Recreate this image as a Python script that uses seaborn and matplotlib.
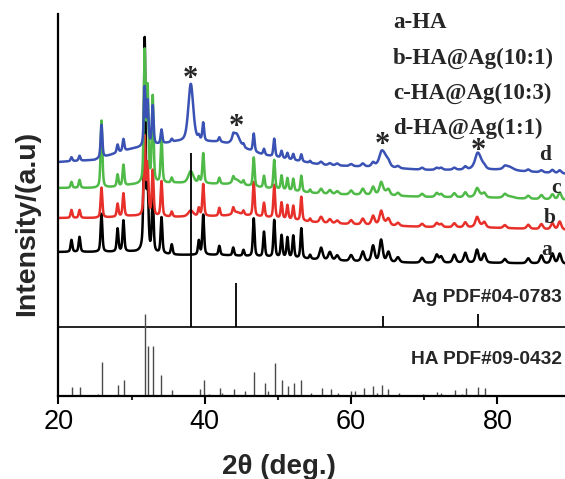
import numpy as np
import pandas as pd
import matplotlib
matplotlib.use("Agg")
import matplotlib.pyplot as plt
import seaborn as sns

# ---------------- data ----------------
# HA reflections seen in the measured patterns (2theta, deg)
ha_peak_pos = [21.8, 22.9, 25.9, 28.1, 28.9, 31.8, 32.2, 32.9, 34.1, 35.5,
               39.2, 39.8, 42.0, 43.9, 45.3, 46.7, 48.1, 49.5, 50.5, 51.3,
               52.1, 53.2, 54.4, 55.9, 57.1, 58.1, 60.0, 61.6, 63.0, 64.1,
               65.1, 66.4, 69.7, 71.7, 72.3, 74.1, 75.6, 77.2, 78.2, 81.0,
               84.2, 86.0, 87.5, 88.5]
ha_peak_fwhm = [0.28] * 23 + [0.5] * 21
a_heights = [12, 15, 38, 23, 31, 212, 60, 55, 36, 10, 14, 40, 9, 8, 6, 38, 25, 37, 22, 20,
             22, 30, 4, 12, 8, 5, 6, 10, 16, 22, 10, 5, 5, 8, 6, 8, 10, 13, 9, 4, 5, 8, 10, 10]
b_heights = [8, 8, 30, 13, 23, 78, 50, 45, 35, 5, 8, 32, 8, 6, 4, 34, 14, 33, 16, 14,
             14, 24, 3, 6, 4, 3, 4, 6, 9, 12, 6, 3, 3, 4, 3, 4, 5, 8, 5, 3, 4, 5, 6, 8]
c_heights = [6, 8, 67, 12, 21, 130, 92, 86, 45, 5, 6, 30, 6, 5, 4, 29, 12, 29, 14, 12,
             12, 16, 3, 5, 4, 3, 4, 6, 8, 10, 5, 3, 3, 4, 3, 4, 5, 6, 4, 3, 3, 4, 5, 7]
d_heights = [4, 5, 33, 8, 12, 58, 43, 39, 14, 3, 4, 18, 4, 4, 3, 18, 6, 18, 7, 6,
             6, 7, 2, 3, 2, 2, 2, 3, 4, 4, 3, 2, 2, 2, 2, 2, 3, 3, 2, 2, 2, 2, 3, 3]

# Ag reflections in the measured patterns
ag_peak_pos = [38.1, 44.3, 64.4, 77.4, 81.5]
ag_peak_fwhm = [0.8, 1.1, 1.2, 1.1, 1.4]
a_ag = [0, 0, 0, 0, 0]
b_ag = [6, 3, 3, 3, 0]
c_ag = [12, 5, 4, 4, 2]
d_ag = [58, 13, 15, 15, 4]

# background levels (stacked offsets included)
base_x = [20, 25, 28, 30, 36, 42, 45, 48, 52, 56, 62, 70, 80, 90]
a_base = [144, 144, 144, 144, 141, 141, 140, 139, 138, 136, 134, 133, 133, 132]
b_base = [178, 178, 179, 180, 179, 180, 181, 179, 176, 173, 171, 169, 168, 166]
c_base = [208, 208, 209, 211, 213, 212, 211, 208, 205, 202, 201, 199, 198, 196]
d_base = [234, 236, 243, 247, 254, 254, 248, 241, 236, 231, 229, 226, 226, 222]

series_names = ["a", "b", "c", "d"]
series_colors = ["#000000", "#e8302b", "#4fba47", "#3a52b4"]
legend_lines = ["a-HA", "b-HA@Ag(10:1)", "c-HA@Ag(10:3)", "d-HA@Ag(1:1)"]

# reference stick patterns
ag_ref_pos = [38.1, 44.3, 64.4, 77.4]
ag_ref_int = [174, 44, 11, 13.5]
ha_ref_pos = [21.85, 23.0, 25.4, 26.0, 28.2, 29.0, 31.8, 32.2, 33.0, 34.0, 35.5,
              39.4, 39.9, 40.6, 42.1, 42.4, 44.0, 45.5, 46.8, 48.3, 48.7, 49.6,
              50.6, 51.4, 52.2, 53.2, 54.5, 56.0, 57.2, 58.2, 60.0, 60.6, 61.8,
              63.0, 63.5, 64.2, 65.1, 66.5, 69.8, 71.7, 72.3, 74.2, 75.1, 75.7,
              77.3, 78.3]
ha_ref_int = [9, 9, 2, 34, 11, 16, 82, 50, 50, 21, 6,
              7, 16, 2, 8, 3, 7, 5, 24, 13.5, 5, 33,
              16, 10, 13.5, 16, 3.4, 8.4, 6.7, 3.4, 5, 5, 8.4,
              10, 3.4, 11, 7.4, 3, 1.7, 4, 3.4, 6, 2.4, 7.7,
              9, 7.7]
ag_ref_base = 69          # level of the Ag reference baseline
asterisk_pos = [38.1, 44.3, 64.3, 77.4]
asterisk_y = [324, 276, 259, 253]

# ---------------- build patterns ----------------
two_theta = np.linspace(20, 90, 2801)


def pv(x, x0, h, w):
    hw = w / 2.0
    lor = 1.0 / (1.0 + ((x - x0) / hw) ** 2)
    gau = np.exp(-np.log(2) * ((x - x0) / hw) ** 2)
    return h * (0.5 * lor + 0.5 * gau)


def pattern(base, heights, ag_heights):
    y = np.interp(two_theta, base_x, base)
    for p, h, w in zip(ha_peak_pos, heights, ha_peak_fwhm):
        y = y + pv(two_theta, p, h, w)
    for p, h, w in zip(ag_peak_pos, ag_heights, ag_peak_fwhm):
        y = y + pv(two_theta, p, h, w)
    return y


frames = []
for name, base, hts, ag in zip(series_names,
                               [a_base, b_base, c_base, d_base],
                               [a_heights, b_heights, c_heights, d_heights],
                               [a_ag, b_ag, c_ag, d_ag]):
    frames.append(pd.DataFrame({"two_theta": two_theta,
                                "intensity": pattern(base, hts, ag),
                                "sample": name}))
df = pd.concat(frames, ignore_index=True)

# ---------------- plot ----------------
sns.set_theme(style="ticks")
plt.rcParams["font.family"] = ["Liberation Sans", "DejaVu Sans"]

W, H = 565, 479
fig = plt.figure(figsize=(W / 100, H / 100), dpi=100)
x_px0, x_px_per = 58.3, 7.32
ax_bottom_px, ax_top_px = 396, 14
ax = fig.add_axes([x_px0 / W, (H - ax_bottom_px) / H,
                   70 * x_px_per / W, (ax_bottom_px - ax_top_px) / H])

sns.lineplot(data=df, x="two_theta", y="intensity", hue="sample",
             hue_order=series_names, palette=series_colors, linewidth=1.8,
             legend=False, ax=ax, estimator=None, sort=False)

# reference patterns
ax.axhline(ag_ref_base, color="black", linewidth=1.2)
ax.vlines(ag_ref_pos, ag_ref_base, [ag_ref_base + v for v in ag_ref_int],
          color="black", linewidth=1.3)
ax.vlines(ha_ref_pos, 0, ha_ref_int, color="#4a4a4a", linewidth=1.0)

ax.set_xlim(20, 90)
ax.set_ylim(0, ax_bottom_px - ax_top_px)
ax.set_xticks([20, 40, 60, 80])
ax.set_xticks([30, 50, 70, 90], minor=True)
ax.set_yticks([])
ax.set_xlabel("")
ax.set_ylabel("")
for s in ["top", "right"]:
    ax.spines[s].set_visible(False)
for s in ["left", "bottom"]:
    ax.spines[s].set_linewidth(1.6)
    ax.spines[s].set_color("black")
ax.tick_params(axis="x", which="major", direction="out", length=5.5, width=1.5,
               labelsize=19.5, pad=4, colors="black")
ax.tick_params(axis="x", which="minor", direction="out", length=2.8, width=1.5)

serif_bold = dict(family=["Liberation Serif", "DejaVu Serif"], weight="bold")
for x, y in zip(asterisk_pos, asterisk_y):
    ax.text(x, y - 8, "*", ha="center", va="center", fontsize=22, **serif_bold)

legend_x = 65.7
for i, t in enumerate(legend_lines):
    ax.text(legend_x, 373 - 35 * i, t, ha="left", va="center", fontsize=16.5, **serif_bold)

# curve letters
for lab, x, y in zip(["a", "b", "c", "d"], [86.7, 87.2, 87.95, 86.5], [146, 178, 208, 241]):
    ax.text(x, y, lab, ha="center", va="center", fontsize=15.5, **serif_bold)

ax.text(88.85, 99, "Ag PDF#04-0783", ha="right", va="center", fontsize=13.8,
        weight="bold")
ax.text(88.85, 37, "HA PDF#09-0432", ha="right", va="center", fontsize=13.8,
        weight="bold")

fig.text(279 / W, 1 - 467 / H, "2θ (deg.)", ha="center", va="center",
         fontsize=20, weight="bold")
fig.text(27 / W, 1 - 223 / H, "Intensity/(a.u)", ha="center", va="center",
         rotation=90, fontsize=20.5, weight="bold")

fig.savefig("out.png", dpi=100)
